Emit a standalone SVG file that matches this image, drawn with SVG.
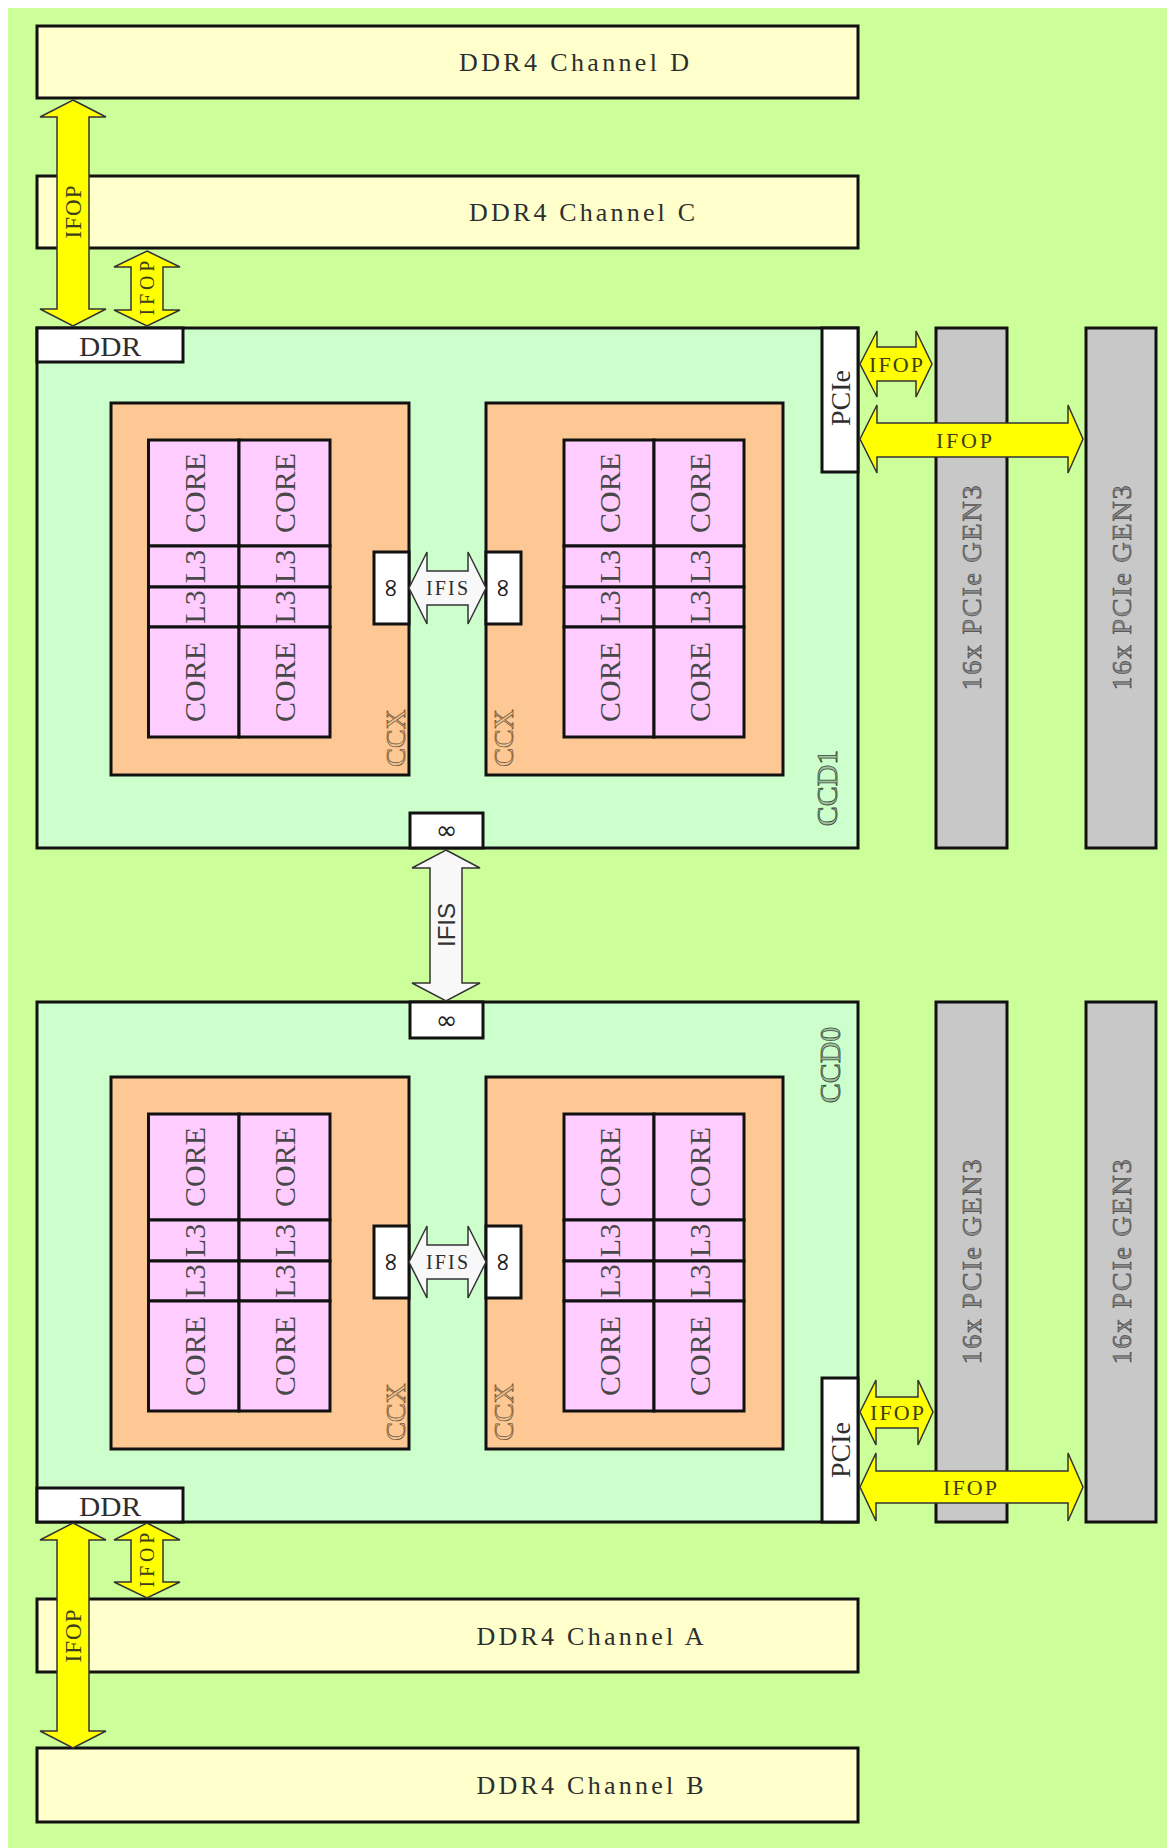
<svg xmlns="http://www.w3.org/2000/svg" width="1167" height="1848" viewBox="0 0 1167 1848">
<style>
.box{stroke:#111;stroke-width:3}
.chan{fill:#ffffcc}
.ccd{fill:#ccffcc}
.ccx{fill:#fdc893}
.core{fill:#ffccff}
.wht{fill:#ffffff}
.gray{fill:#c8c8c8}
.t{font-family:"Liberation Serif","Times New Roman",serif;fill:#2e2e2e;text-anchor:middle;dominant-baseline:central}
.ts{font-family:"Liberation Sans",Arial,sans-serif;fill:#333;text-anchor:middle;dominant-baseline:central}
.inf{font-family:"DejaVu Sans",sans-serif;fill:#222;text-anchor:middle;dominant-baseline:central;font-size:26px}
.ct{font-size:30px;fill:#484848}
.ccxl{font-size:28px;fill:#efc798;stroke:#7a5a3a;stroke-width:0.8}
.ccdl{font-size:30px;fill:#9fc39f;stroke:#3a4a3a;stroke-width:0.8}
.gt{font-size:28px;fill:#8c8c8c;stroke:#444;stroke-width:0.6}
.ya{fill:#ffff00;stroke:#333;stroke-width:1.5}
.wa{fill:#f8f8f8;stroke:#333;stroke-width:1.5}
.yt{fill:#3e3e1a}
</style>
<rect x="8" y="8" width="1159" height="1840" fill="#ccff99"/>

<g id="channel-d"><rect class="box chan" x="37" y="26" width="821" height="72"/><text class="t" x="574" y="62" font-size="26" textLength="230" lengthAdjust="spacing">DDR4 Channel D</text></g>
<g id="channel-c"><rect class="box chan" x="37" y="176" width="821" height="72"/><text class="t" x="582" y="212" font-size="26" textLength="226" lengthAdjust="spacing">DDR4 Channel C</text></g>
<g id="channel-a"><rect class="box chan" x="37" y="1599" width="821" height="73"/><text class="t" x="590" y="1636" font-size="26" textLength="227" lengthAdjust="spacing">DDR4 Channel A</text></g>
<g id="channel-b"><rect class="box chan" x="37" y="1748" width="821" height="74"/><text class="t" x="590" y="1785" font-size="26" textLength="227" lengthAdjust="spacing">DDR4 Channel B</text></g>

<g id="pcie-gen3-1a"><rect class="box gray" x="936" y="328" width="71" height="520"/><text class="t gt" x="971" y="588" transform="rotate(-90 971 588)" textLength="205" lengthAdjust="spacing">16x PCIe GEN3</text></g>
<g id="pcie-gen3-1b"><rect class="box gray" x="1086" y="328" width="70" height="520"/><text class="t gt" x="1121" y="588" transform="rotate(-90 1121 588)" textLength="205" lengthAdjust="spacing">16x PCIe GEN3</text></g>
<g id="pcie-gen3-0a"><rect class="box gray" x="936" y="1002" width="71" height="520"/><text class="t gt" x="971" y="1262" transform="rotate(-90 971 1262)" textLength="205" lengthAdjust="spacing">16x PCIe GEN3</text></g>
<g id="pcie-gen3-0b"><rect class="box gray" x="1086" y="1002" width="70" height="520"/><text class="t gt" x="1121" y="1262" transform="rotate(-90 1121 1262)" textLength="205" lengthAdjust="spacing">16x PCIe GEN3</text></g>

<g id="ccd1">
<rect class="box ccd" x="37" y="328" width="821" height="520"/>
<text class="t ccdl" x="826" y="788" transform="rotate(-90 826 788)">CCD1</text>
<g id="ccd1-ddr"><rect class="box wht" x="37" y="328" width="146" height="34"/><text class="t" x="110" y="346" font-size="28" textLength="62" lengthAdjust="spacingAndGlyphs">DDR</text></g>
<g id="ccd1-pcie"><rect class="box wht" x="822" y="328" width="36" height="144"/><text class="t" x="840" y="398" font-size="28" transform="rotate(-90 840 398)">PCIe</text></g>
<g id="ccd1-inf"><rect class="box wht" x="410" y="813" width="73" height="35"/><text class="inf" x="446.5" y="830">∞</text></g>
<g id="ccd1-ccx0">
<rect class="box ccx" x="111" y="403" width="298" height="372"/>
<text class="t ccxl" x="395" y="738" transform="rotate(-90 395 738)">CCX</text>
<rect class="box core" x="148.5" y="440" width="90.5" height="106"/><rect class="box core" x="239" y="440" width="91" height="106"/>
<rect class="box core" x="148.5" y="546" width="90.5" height="41"/><rect class="box core" x="239" y="546" width="91" height="41"/>
<rect class="box core" x="148.5" y="587" width="90.5" height="40"/><rect class="box core" x="239" y="587" width="91" height="40"/>
<rect class="box core" x="148.5" y="627" width="90.5" height="110"/><rect class="box core" x="239" y="627" width="91" height="110"/>
<text class="t ct" x="194" y="493" transform="rotate(-90 194 493)">CORE</text><text class="t ct" x="284.5" y="493" transform="rotate(-90 284.5 493)">CORE</text>
<text class="t ct" x="194" y="566.5" transform="rotate(-90 194 566.5)">L3</text><text class="t ct" x="284.5" y="566.5" transform="rotate(-90 284.5 566.5)">L3</text>
<text class="t ct" x="194" y="607" transform="rotate(-90 194 607)">L3</text><text class="t ct" x="284.5" y="607" transform="rotate(-90 284.5 607)">L3</text>
<text class="t ct" x="194" y="682" transform="rotate(-90 194 682)">CORE</text><text class="t ct" x="284.5" y="682" transform="rotate(-90 284.5 682)">CORE</text>
<rect class="box wht" x="374" y="552" width="35" height="72"/><text class="inf" x="391.5" y="588" font-size="28" transform="rotate(90 391.5 588)">∞</text>
</g>
<g id="ccd1-ccx1">
<rect class="box ccx" x="486" y="403" width="297" height="372"/>
<text class="t ccxl" x="503" y="738" transform="rotate(-90 503 738)">CCX</text>
<rect class="box core" x="564" y="440" width="90" height="106"/><rect class="box core" x="654" y="440" width="90" height="106"/>
<rect class="box core" x="564" y="546" width="90" height="41"/><rect class="box core" x="654" y="546" width="90" height="41"/>
<rect class="box core" x="564" y="587" width="90" height="40"/><rect class="box core" x="654" y="587" width="90" height="40"/>
<rect class="box core" x="564" y="627" width="90" height="110"/><rect class="box core" x="654" y="627" width="90" height="110"/>
<text class="t ct" x="609" y="493" transform="rotate(-90 609 493)">CORE</text><text class="t ct" x="699" y="493" transform="rotate(-90 699 493)">CORE</text>
<text class="t ct" x="609" y="566.5" transform="rotate(-90 609 566.5)">L3</text><text class="t ct" x="699" y="566.5" transform="rotate(-90 699 566.5)">L3</text>
<text class="t ct" x="609" y="607" transform="rotate(-90 609 607)">L3</text><text class="t ct" x="699" y="607" transform="rotate(-90 699 607)">L3</text>
<text class="t ct" x="609" y="682" transform="rotate(-90 609 682)">CORE</text><text class="t ct" x="699" y="682" transform="rotate(-90 699 682)">CORE</text>
<rect class="box wht" x="486" y="552" width="35" height="72"/><text class="inf" x="503.5" y="588" font-size="28" transform="rotate(90 503.5 588)">∞</text>
</g>
</g>

<g id="ccd0">
<rect class="box ccd" x="37" y="1002" width="821" height="520"/>
<text class="t ccdl" x="829" y="1065" transform="rotate(-90 829 1065)">CCD0</text>
<g id="ccd0-ddr"><rect class="box wht" x="37" y="1488" width="146" height="34"/><text class="t" x="110" y="1506" font-size="28" textLength="62" lengthAdjust="spacingAndGlyphs">DDR</text></g>
<g id="ccd0-pcie"><rect class="box wht" x="822" y="1378" width="36" height="144"/><text class="t" x="840" y="1450" font-size="28" transform="rotate(-90 840 1450)">PCIe</text></g>
<g id="ccd0-inf"><rect class="box wht" x="410" y="1002" width="73" height="36"/><text class="inf" x="446.5" y="1020">∞</text></g>
<g id="ccd0-ccx0">
<rect class="box ccx" x="111" y="1077" width="298" height="372"/>
<text class="t ccxl" x="395" y="1412" transform="rotate(-90 395 1412)">CCX</text>
<rect class="box core" x="148.5" y="1114" width="90.5" height="106"/><rect class="box core" x="239" y="1114" width="91" height="106"/>
<rect class="box core" x="148.5" y="1220" width="90.5" height="41"/><rect class="box core" x="239" y="1220" width="91" height="41"/>
<rect class="box core" x="148.5" y="1261" width="90.5" height="40"/><rect class="box core" x="239" y="1261" width="91" height="40"/>
<rect class="box core" x="148.5" y="1301" width="90.5" height="110"/><rect class="box core" x="239" y="1301" width="91" height="110"/>
<text class="t ct" x="194" y="1167" transform="rotate(-90 194 1167)">CORE</text><text class="t ct" x="284.5" y="1167" transform="rotate(-90 284.5 1167)">CORE</text>
<text class="t ct" x="194" y="1240.5" transform="rotate(-90 194 1240.5)">L3</text><text class="t ct" x="284.5" y="1240.5" transform="rotate(-90 284.5 1240.5)">L3</text>
<text class="t ct" x="194" y="1281" transform="rotate(-90 194 1281)">L3</text><text class="t ct" x="284.5" y="1281" transform="rotate(-90 284.5 1281)">L3</text>
<text class="t ct" x="194" y="1356" transform="rotate(-90 194 1356)">CORE</text><text class="t ct" x="284.5" y="1356" transform="rotate(-90 284.5 1356)">CORE</text>
<rect class="box wht" x="374" y="1226" width="35" height="72"/><text class="inf" x="391.5" y="1262" font-size="28" transform="rotate(90 391.5 1262)">∞</text>
</g>
<g id="ccd0-ccx1">
<rect class="box ccx" x="486" y="1077" width="297" height="372"/>
<text class="t ccxl" x="503" y="1412" transform="rotate(-90 503 1412)">CCX</text>
<rect class="box core" x="564" y="1114" width="90" height="106"/><rect class="box core" x="654" y="1114" width="90" height="106"/>
<rect class="box core" x="564" y="1220" width="90" height="41"/><rect class="box core" x="654" y="1220" width="90" height="41"/>
<rect class="box core" x="564" y="1261" width="90" height="40"/><rect class="box core" x="654" y="1261" width="90" height="40"/>
<rect class="box core" x="564" y="1301" width="90" height="110"/><rect class="box core" x="654" y="1301" width="90" height="110"/>
<text class="t ct" x="609" y="1167" transform="rotate(-90 609 1167)">CORE</text><text class="t ct" x="699" y="1167" transform="rotate(-90 699 1167)">CORE</text>
<text class="t ct" x="609" y="1240.5" transform="rotate(-90 609 1240.5)">L3</text><text class="t ct" x="699" y="1240.5" transform="rotate(-90 699 1240.5)">L3</text>
<text class="t ct" x="609" y="1281" transform="rotate(-90 609 1281)">L3</text><text class="t ct" x="699" y="1281" transform="rotate(-90 699 1281)">L3</text>
<text class="t ct" x="609" y="1356" transform="rotate(-90 609 1356)">CORE</text><text class="t ct" x="699" y="1356" transform="rotate(-90 699 1356)">CORE</text>
<rect class="box wht" x="486" y="1226" width="35" height="72"/><text class="inf" x="503.5" y="1262" font-size="28" transform="rotate(90 503.5 1262)">∞</text>
</g>
</g>

<g id="connectors">
<path class="ya" d="M73,100 L106,117 L89,117 L89,309 L106,309 L73,326 L40,309 L57,309 L57,117 L40,117 Z"/>
<text class="t yt" x="73" y="212" font-size="23" transform="rotate(-90 73 212)" textLength="53" lengthAdjust="spacing">IFOP</text>
<path class="ya" d="M147,251 L180,267 L163,267 L163,310 L180,310 L147,326 L114,310 L131,310 L131,267 L114,267 Z"/>
<text class="t yt" x="147" y="288" font-size="20" transform="rotate(-90 147 288)" textLength="55" lengthAdjust="spacing">IFOP</text>
<path class="ya" d="M73,1523 L106,1540 L89,1540 L89,1731 L106,1731 L73,1748 L40,1731 L57,1731 L57,1540 L40,1540 Z"/>
<text class="t yt" x="73" y="1636" font-size="23" transform="rotate(-90 73 1636)" textLength="53" lengthAdjust="spacing">IFOP</text>
<path class="ya" d="M147,1523 L180,1540 L163,1540 L163,1582 L180,1582 L147,1598 L114,1582 L131,1582 L131,1540 L114,1540 Z"/>
<text class="t yt" x="147" y="1560" font-size="20" transform="rotate(-90 147 1560)" textLength="55" lengthAdjust="spacing">IFOP</text>
<path class="ya" d="M860,364 L877,331 L877,347 L916,347 L916,331 L932,364 L916,397 L916,381 L877,381 L877,397 Z"/>
<text class="t yt" x="896" y="364" font-size="22" textLength="54" lengthAdjust="spacing">IFOP</text>
<path class="ya" d="M860,439 L877,405 L877,423 L1068,423 L1068,405 L1083,439 L1068,473 L1068,457 L877,457 L877,473 Z"/>
<text class="t yt" x="964" y="440" font-size="22" textLength="56" lengthAdjust="spacing">IFOP</text>
<path class="ya" d="M860,1412 L876,1380 L876,1397 L918,1397 L918,1380 L933,1412 L918,1445 L918,1428 L876,1428 L876,1445 Z"/>
<text class="t yt" x="897" y="1412" font-size="22" textLength="54" lengthAdjust="spacing">IFOP</text>
<path class="ya" d="M860,1487 L876,1453 L876,1471 L1068,1471 L1068,1453 L1083,1487 L1068,1521 L1068,1503 L876,1503 L876,1521 Z"/>
<text class="t yt" x="970" y="1487" font-size="22" textLength="54" lengthAdjust="spacing">IFOP</text>
<path class="wa" d="M409,588 L427,552 L427,571 L468,571 L468,552 L486,588 L468,624 L468,605 L427,605 L427,624 Z"/>
<text class="t" x="447" y="588" font-size="20" textLength="42" lengthAdjust="spacing">IFIS</text>
<path class="wa" d="M409,1262 L427,1226 L427,1245 L468,1245 L468,1226 L486,1262 L468,1298 L468,1279 L427,1279 L427,1298 Z"/>
<text class="t" x="447" y="1262" font-size="20" textLength="42" lengthAdjust="spacing">IFIS</text>
<path class="wa" d="M446,850 L480,868 L462,868 L462,983 L480,983 L446,1001 L412,983 L430,983 L430,868 L412,868 Z"/>
<text class="ts" x="446" y="925" font-size="24" transform="rotate(-90 446 925)">IFIS</text>
</g>
</svg>
